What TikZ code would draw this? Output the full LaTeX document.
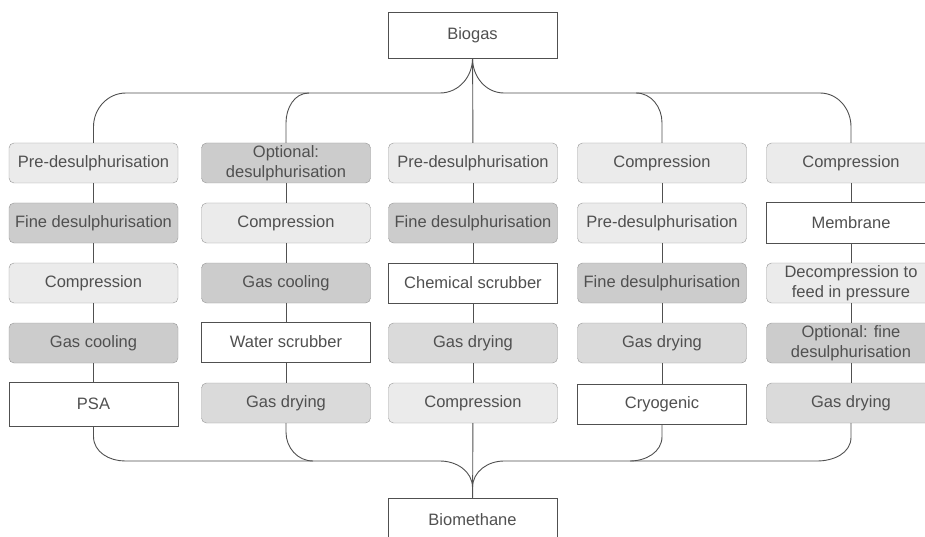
\documentclass[tikz,border=0pt]{standalone}
\usepackage{fontspec}
\setmainfont{Liberation Sans}
\usepackage{tikz}
\definecolor{lightfill}{RGB}{235,235,235}
\definecolor{midfill}{RGB}{218,218,218}
\definecolor{darkfill}{RGB}{204,204,204}
\definecolor{edgegray}{RGB}{150,150,150}
\definecolor{linegray}{RGB}{80,80,80}
\definecolor{textgray}{RGB}{80,80,80}

\tikzset{
  stage/.style={rectangle, minimum width=169pt, minimum height=40pt, inner sep=0pt,
    align=center, text=textgray, font=\fontsize{16.5}{19.5}\selectfont},
  lightstage/.style={stage, rounded corners=5pt, draw=edgegray, fill=lightfill},
  midstage/.style={stage, rounded corners=5pt, draw=edgegray, fill=midfill},
  darkstage/.style={stage, rounded corners=5pt, draw=edgegray, fill=darkfill},
  plainstage/.style={stage, draw=linegray, line width=1pt, fill=white},
  pipe/.style={draw=linegray, line width=0.9pt}
}

\begin{document}
\begin{tikzpicture}[x=1pt,y=-1pt]
    \clip (0,0) rectangle (925,537);

    % Inlet and outlet
    \node[plainstage, minimum height=46pt, line width=0.8pt] (biogas) at (472.5,35) {Biogas};
    \node[plainstage, minimum height=44pt, line width=0.8pt] (biomethane) at (472.5,520) {Biomethane};

    % Column 1
    \node[lightstage] (c1a) at (93.5,163) {Pre-desulphurisation};
    \node[darkstage]  (c1b) at (93.5,223) {Fine desulphurisation};
    \node[lightstage] (c1c) at (93.5,283) {Compression};
    \node[darkstage]  (c1d) at (93.5,343) {Gas cooling};
    \node[plainstage, minimum height=44pt] (c1e) at (93.5,404) {PSA};

    % Column 2
    \node[darkstage]  (c2a) at (286,163) {Optional:\\desulphurisation};
    \node[lightstage] (c2b) at (286,223) {Compression};
    \node[darkstage]  (c2c) at (286,283) {Gas cooling};
    \node[plainstage] (c2d) at (286,342) {Water scrubber};
    \node[midstage]   (c2e) at (286,403) {Gas drying};

    % Column 3
    \node[lightstage] (c3a) at (473,163) {Pre-desulphurisation};
    \node[darkstage]  (c3b) at (473,223) {Fine desulphurisation};
    \node[plainstage] (c3c) at (473,283) {Chemical scrubber};
    \node[midstage]   (c3d) at (473,343) {Gas drying};
    \node[lightstage] (c3e) at (473,403) {Compression};

    % Column 4
    \node[lightstage] (c4a) at (662,163) {Compression};
    \node[lightstage] (c4b) at (662,223) {Pre-desulphurisation};
    \node[darkstage]  (c4c) at (662,283) {Fine desulphurisation};
    \node[midstage]   (c4d) at (662,343) {Gas drying};
    \node[plainstage] (c4e) at (662,404) {Cryogenic};

    % Column 5
    \node[lightstage] (c5a) at (851,163) {Compression};
    \node[plainstage] (c5b) at (851,223) {Membrane};
    \node[lightstage] (c5c) at (851,283) {Decompression to\\feed in pressure};
    \node[darkstage]  (c5d) at (851,343) {Optional: fine\\desulphurisation};
    \node[midstage]   (c5e) at (851,403) {Gas drying};

    % Steps within each column
    \foreach \c in {1,...,5} {
        \draw[pipe] (c\c a) -- (c\c b);
        \draw[pipe] (c\c b) -- (c\c c);
        \draw[pipe] (c\c c) -- (c\c d);
        \draw[pipe] (c\c d) -- (c\c e);
    }

    % Centre line
    \draw[pipe] (biogas) -- (c3a);
    \draw[pipe] (c3e) -- (biomethane);

    % Distribution to the columns
    \draw[pipe] (biogas.south) to[out=-90,in=0] (440,93) -- (126,93)
        to[out=180,in=90] ([yshift=16pt]c1a.north) -- (c1a.north);
    \draw[pipe] (309,93) to[out=180,in=90] ([yshift=20pt]c2a.north) -- (c2a.north);
    \draw[pipe] (biogas.south) to[out=-90,in=180] (504,93) -- (820,93)
        to[out=0,in=90] ([yshift=16pt]c5a.north) -- (c5a.north);
    \draw[pipe] (636,93) to[out=0,in=90] ([yshift=20pt]c4a.north) -- (c4a.north);

    % Collection to biomethane
    \draw[pipe] (c1e.south) -- ([yshift=-10pt]c1e.south) to[out=-90,in=180] (125,461)
        -- (440,461) to[out=0,in=90] ([yshift=10pt]biomethane.north) -- (biomethane.north);
    \draw[pipe] (c2e.south) -- ([yshift=-9pt]c2e.south) to[out=-90,in=180] (313,461);
    \draw[pipe] (biomethane.north) -- ([yshift=10pt]biomethane.north) to[out=90,in=180] (504,461)
        -- (817,461) to[out=0,in=-90] ([yshift=-14pt]c5e.south) -- (c5e.south);
    \draw[pipe] (630,461) to[out=0,in=-90] ([yshift=-12pt]c4e.south) -- (c4e.south);
\end{tikzpicture}
\end{document}
